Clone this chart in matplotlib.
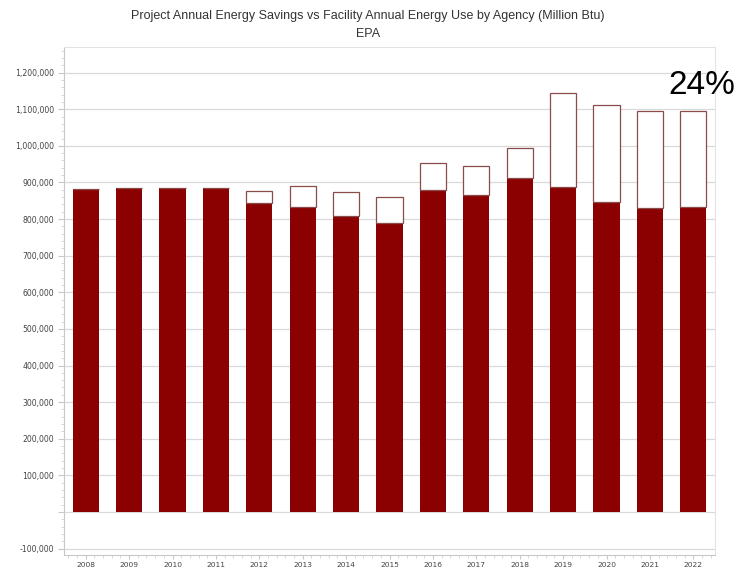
import matplotlib
matplotlib.use("Agg")
import matplotlib.pyplot as plt
from matplotlib.ticker import FuncFormatter, MultipleLocator, AutoMinorLocator

# Annual facility energy use and project savings for EPA (Million Btu)
years = ["2008", "2009", "2010", "2011", "2012", "2013", "2014", "2015",
         "2016", "2017", "2018", "2019", "2020", "2021", "2022"]
facility_use = [882000, 885000, 885000, 885000, 845000, 832000, 809000, 790000,
                880000, 865000, 911000, 888000, 846000, 831000, 833000]
project_savings = [0, 0, 0, 0, 33000, 59000, 66000, 70000,
                   73000, 80000, 84000, 256000, 265000, 264000, 262000]
savings_label = "24%"

BAR_RED = "#8b0000"
EDGE = "#8a4b4b"
GRID = "#d9d9d9"
TICK_TEXT = "#444444"

fig = plt.figure(figsize=(7.36, 5.72), dpi=100)
ax = fig.add_axes([64 / 736, 1 - 555 / 572, (715 - 64) / 736, (555 - 47) / 572])

x = list(range(len(years)))
ax.bar(x, facility_use, width=0.6, color=BAR_RED, zorder=3)
ax.bar(x, project_savings, width=0.6, bottom=facility_use, color="white",
       edgecolor=EDGE, linewidth=0.9, zorder=3)

ax.set_xlim(-0.5, len(years) - 0.5)
ax.set_ylim(-117500, 1270000)

ax.yaxis.set_major_locator(MultipleLocator(100000))
ax.yaxis.set_minor_locator(AutoMinorLocator(5))
ax.yaxis.set_major_formatter(
    FuncFormatter(lambda v, _: "" if v == 0 else f"{int(v):,}"))
ax.set_xticks(x)
ax.set_xticklabels(years)
ax.xaxis.set_minor_locator(MultipleLocator(0.2))

ax.grid(axis="y", color=GRID, linewidth=0.9, zorder=0)
ax.set_axisbelow(True)

for side in ("top", "right"):
    ax.spines[side].set_color("#e3e3e3")
for side in ("left", "bottom"):
    ax.spines[side].set_color("#c8c8c8")

ax.tick_params(axis="y", which="major", length=4, color="#c8c8c8",
               labelsize=5.6, labelcolor=TICK_TEXT, pad=3)
ax.tick_params(axis="x", which="major", length=3, color="#c8c8c8",
               labelsize=5.4, labelcolor=TICK_TEXT, pad=2.2)
ax.tick_params(axis="both", which="minor", length=2, color="#d0d0d0")
for lbl in ax.get_xticklabels() + ax.get_yticklabels():
    lbl.set_family("DejaVu Sans")

title_font = ["Liberation Sans Narrow", "Liberation Sans", "DejaVu Sans"]
fig.text(368 / 736, 1 - 16 / 572,
         "Project Annual Energy Savings vs Facility Annual Energy Use by Agency (Million Btu)",
         ha="center", va="center", fontsize=9, color="#333333", family=title_font)
fig.text(368 / 736, 1 - 34 / 572, "EPA", ha="center", va="center",
         fontsize=9, color="#333333", family=title_font)

fig.text(668 / 736, 1 - 86 / 572, savings_label, ha="left", va="center",
         fontsize=24, color="black", family=["Liberation Sans", "DejaVu Sans"])

fig.savefig("out.png", dpi=100)
